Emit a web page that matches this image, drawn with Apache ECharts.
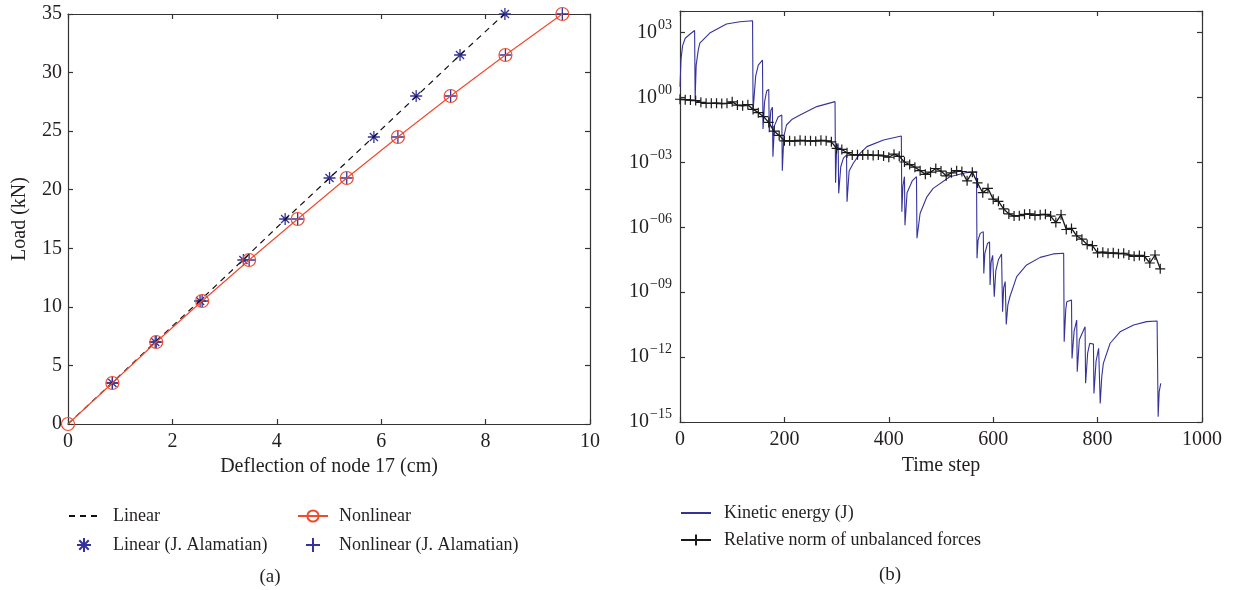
<!DOCTYPE html>
<html>
<head>
<meta charset="utf-8">
<script src="https://cdn.jsdelivr.net/npm/echarts@6/dist/echarts.min.js"></script>
<style>
  html, body { margin: 0; padding: 0; background: #fff; }
  #chart { width: 1234px; height: 590px; }
</style>
</head>
<body>
<div id="chart"></div>
<script>
// ---- (a) load versus deflection of node 17 ----
const loadLevels = [0, 3.5, 7, 10.5, 14, 17.5, 21, 24.5, 28, 31.5, 35];           // kN
const linearDeflection = [0, 0.84, 1.67, 2.52, 3.35, 4.17, 5.01, 5.85, 6.68, 7.51, 8.36];  // cm
const nonlinearDeflection = [0, 0.85, 1.69, 2.57, 3.47, 4.40, 5.34, 6.32, 7.33, 8.38, 9.47];
const alamatianLoads = [3.5, 7, 10.5, 14, 17.5, 21, 24.5, 28, 31.5, 35];
const alamatianLinear = [0.85, 1.67, 2.53, 3.36, 4.16, 5.01, 5.86, 6.67, 7.51, 8.37];
const alamatianNonlinear = [0.85, 1.69, 2.57, 3.47, 4.40, 5.34, 6.32, 7.33, 8.38, 9.47];

// ---- (b) convergence history (exponents of ten) ----
const keSteps = [0,2,5,10,20,28,29,31,35,38,57,89,115,139,140,145,150,158,159,162,166,170,171,174,177,178,181,188,195,196,199,204,215,230,262,297,298,300,303,304,308,313,319,320,324,332,345,358,390,424,425,427,430,431,435,445,453,454,460,473,485,517,549,568,569,571,575,581,582,584,589,593,594,596,599,601,602,605,610,616,618,620,623,625,628,632,645,664,690,715,735,736,739,741,750,751,755,760,761,765,776,777,781,785,792,793,797,802,805,808,811,824,843,869,894,914,916,918,921];
const keExponent = [0.5,1.8,2.4,2.74,2.95,3.1,-0.08,1.5,2.2,2.52,2.98,3.4,3.5,3.55,-0.6,1.0,1.5,1.73,-1.45,-0.2,0.3,0.38,-1.6,-0.6,-0.45,-2.74,-1.3,-0.9,-0.81,-3.38,-1.8,-1.27,-1.0,-0.81,-0.42,-0.19,-3.94,-2.4,-2.12,-4.43,-3.2,-2.8,-2.66,-4.82,-3.4,-3.04,-2.58,-2.27,-1.96,-1.78,-5.28,-4.1,-3.66,-5.9,-4.4,-3.85,-3.66,-6.5,-5.35,-4.59,-4.2,-3.66,-3.47,-3.43,-7.43,-6.6,-6.28,-6.2,-8.13,-7.2,-6.75,-6.67,-8.67,-7.6,-7.3,-7.28,-9.21,-8.0,-7.5,-7.23,-9.9,-8.8,-8.51,-10.49,-9.6,-9.21,-8.28,-7.74,-7.39,-7.23,-7.2,-11.29,-9.8,-9.44,-9.36,-12.06,-10.8,-10.29,-12.68,-11.2,-10.6,-13.21,-11.8,-11.36,-11.4,-13.68,-12.2,-11.59,-14.14,-12.9,-12.29,-11.36,-10.83,-10.52,-10.36,-10.33,-14.76,-13.6,-13.21];

const residualSteps = [0,10,20,30,40,50,60,70,80,90,100,110,120,130,140,150,160,170,180,190,200,210,220,230,240,250,260,270,280,290,300,310,320,330,340,350,360,370,380,390,400,410,420,430,440,450,460,470,480,490,500,510,520,530,540,550,560,570,580,590,600,610,620,630,640,650,660,670,680,690,700,710,720,730,740,750,760,770,780,790,800,810,820,830,840,850,860,870,880,890,900,910,920];
const residualExponent = [-0.08,-0.1,-0.12,-0.14,-0.22,-0.27,-0.27,-0.26,-0.28,-0.27,-0.2,-0.35,-0.38,-0.33,-0.55,-0.7,-0.88,-1.15,-1.55,-1.75,-2.0,-2.0,-2.02,-1.98,-2.0,-2.0,-2.02,-1.98,-2.0,-2.05,-2.35,-2.4,-2.55,-2.66,-2.64,-2.66,-2.64,-2.68,-2.66,-2.7,-2.76,-2.62,-2.72,-2.98,-3.1,-3.22,-3.38,-3.55,-3.45,-3.28,-3.4,-3.62,-3.48,-3.38,-3.42,-3.85,-3.45,-3.95,-4.4,-4.2,-4.7,-4.8,-5.15,-5.38,-5.48,-5.46,-5.4,-5.38,-5.45,-5.42,-5.4,-5.48,-5.78,-5.42,-6.1,-6.05,-6.4,-6.55,-6.8,-6.85,-7.18,-7.15,-7.2,-7.18,-7.22,-7.2,-7.28,-7.34,-7.3,-7.35,-7.65,-7.28,-7.92];

const pairs = (xs, ys) => xs.map((x, i) => [x, ys[i]]);
const pow10Pairs = (xs, es) => xs.map((x, i) => [x, Math.pow(10, es[i])]);

const FONT = '"Liberation Serif", "DejaVu Serif", serif';
const INK = '#231f20';
const BLUE = '#35339a';
const RED = '#f04b2f';
const CLEAR = 'rgba(0,0,0,0)';
const ASTERISK = 'path://M5,0L5,10M0,5L10,5M1.6,1.6L8.4,8.4M8.4,1.6L1.6,8.4';
const PLUS = 'path://M5,0L5,10M0,5L10,5';

const axisLine = { show: true, onZero: false, lineStyle: { color: '#333', width: 1.2 } };
const axisTick = { show: true, inside: true, length: 5, lineStyle: { color: '#333', width: 1.2 } };
const tickFont = { color: INK, fontFamily: FONT, fontSize: 20 };
const titleFont = { color: INK, fontFamily: FONT, fontSize: 20 };
const legendFont = { color: INK, fontFamily: FONT, fontSize: 18, lineHeight: 20 };

function powerLabel(v) {
  const e = Math.round(Math.log10(v));
  if (e % 3 !== 0) return '';
  const s = (e < 0 ? '\u2212' : '') + String(Math.abs(e)).padStart(2, '0');
  return '10{e|' + s + '}';
}

const option = {
  animation: false,
  backgroundColor: '#fff',
  grid: [
    { left: 68, top: 14, width: 522, height: 410 },
    { left: 680, top: 11, width: 522, height: 411 }
  ],
  xAxis: [
    { type: 'value', gridIndex: 0, min: 0, max: 10, interval: 2,
      axisLine, axisTick, splitLine: { show: false },
      axisLabel: Object.assign({ margin: 8, formatter: v => String(v) }, tickFont),
      name: 'Deflection of node 17 (cm)', nameLocation: 'middle', nameGap: 33,
      nameTextStyle: titleFont },
    { type: 'value', gridIndex: 0, position: 'top', min: 0, max: 10, interval: 2,
      axisLine, axisTick, splitLine: { show: false }, axisLabel: { show: false } },
    { type: 'value', gridIndex: 1, min: 0, max: 1000, interval: 200,
      axisLine, axisTick, splitLine: { show: false },
      axisLabel: Object.assign({ margin: 8, formatter: v => String(v) }, tickFont),
      name: 'Time step', nameLocation: 'middle', nameGap: 34,
      nameTextStyle: titleFont },
    { type: 'value', gridIndex: 1, position: 'top', min: 0, max: 1000, interval: 200,
      axisLine, axisTick, splitLine: { show: false }, axisLabel: { show: false } }
  ],
  yAxis: [
    { type: 'value', gridIndex: 0, min: 0, max: 35, interval: 5,
      axisLine, axisTick, splitLine: { show: false },
      axisLabel: Object.assign({ margin: 6 }, tickFont),
      name: 'Load (kN)', nameLocation: 'middle', nameGap: 38, nameRotate: 90,
      nameTextStyle: titleFont },
    { type: 'value', gridIndex: 0, position: 'right', min: 0, max: 35, interval: 5,
      axisLine, axisTick, splitLine: { show: false }, axisLabel: { show: false } },
    { type: 'log', logBase: 10, gridIndex: 1, min: 1e-15, max: 1e4, interval: 3,
      axisLine, axisTick, splitLine: { show: false },
      axisLabel: Object.assign({ margin: 8, formatter: powerLabel,
        rich: { e: { fontFamily: FONT, fontSize: 14, color: INK, padding: [0, 0, 15, 1] } } }, tickFont) },
    { type: 'log', logBase: 10, gridIndex: 1, position: 'right', min: 1e-15, max: 1e4, interval: 3,
      axisLine, axisTick, splitLine: { show: false }, axisLabel: { show: false } }
  ],
  legend: [
    { left: 63, top: 501, orient: 'vertical', itemWidth: 30, itemHeight: 14, itemGap: 9,
      data: ['Linear', 'Linear (J. Alamatian)'],
      textStyle: Object.assign({ padding: [0, 0, 0, 9] }, legendFont) },
    { left: 292, top: 501, orient: 'vertical', itemWidth: 30, itemHeight: 14, itemGap: 9,
      data: ['Nonlinear', 'Nonlinear (J. Alamatian)'],
      textStyle: Object.assign({ padding: [0, 0, 0, 6] }, legendFont) },
    { left: 675, top: 498, orient: 'vertical', itemWidth: 30, itemHeight: 14, itemGap: 7,
      data: ['Kinetic energy (J)', 'Relative norm of unbalanced forces'],
      textStyle: Object.assign({ padding: [0, 0, 0, 8] }, legendFont) }
  ],
  graphic: [
    { type: 'text', x: 270, y: 577,
      style: { text: '(a)', align: 'center', verticalAlign: 'middle', font: '19px ' + FONT, fill: INK } },
    { type: 'text', x: 890, y: 575,
      style: { text: '(b)', align: 'center', verticalAlign: 'middle', font: '19px ' + FONT, fill: INK } }
  ],
  series: [
    { name: 'Linear', type: 'line', xAxisIndex: 0, yAxisIndex: 0,
      data: pairs(linearDeflection, loadLevels), symbol: 'none',
      itemStyle: { color: CLEAR },
      lineStyle: { color: '#111', width: 1.2, type: [6, 5] } },
    { name: 'Nonlinear', type: 'line', xAxisIndex: 0, yAxisIndex: 0,
      data: pairs(nonlinearDeflection, loadLevels), symbol: 'circle', symbolSize: 13,
      itemStyle: { color: CLEAR, borderColor: RED, borderWidth: 1.2 },
      lineStyle: { color: RED, width: 1.2 } },
    { name: 'Linear (J. Alamatian)', type: 'scatter', xAxisIndex: 0, yAxisIndex: 0,
      data: pairs(alamatianLinear, alamatianLoads), symbol: ASTERISK, symbolSize: 12,
      symbolKeepAspect: true,
      itemStyle: { color: CLEAR, borderColor: BLUE, borderWidth: 1.3, opacity: 1 } },
    { name: 'Nonlinear (J. Alamatian)', type: 'scatter', xAxisIndex: 0, yAxisIndex: 0,
      data: pairs(alamatianNonlinear, alamatianLoads), symbol: PLUS, symbolSize: 12,
      symbolKeepAspect: true,
      itemStyle: { color: CLEAR, borderColor: BLUE, borderWidth: 1.3, opacity: 1 } },
    { name: 'Kinetic energy (J)', type: 'line', xAxisIndex: 2, yAxisIndex: 2,
      data: pow10Pairs(keSteps, keExponent), symbol: 'none',
      itemStyle: { color: CLEAR },
      lineStyle: { color: BLUE, width: 1.1 } },
    { name: 'Relative norm of unbalanced forces', type: 'line', xAxisIndex: 2, yAxisIndex: 2,
      data: pow10Pairs(residualSteps, residualExponent), symbol: PLUS, symbolSize: 10,
      symbolKeepAspect: true, showAllSymbol: true,
      itemStyle: { color: CLEAR, borderColor: '#1a1a1a', borderWidth: 1.2 },
      lineStyle: { color: '#1a1a1a', width: 1.3 } }
  ]
};

echarts.init(document.getElementById('chart'), null, { renderer: 'canvas' }).setOption(option);
</script>
</body>
</html>
